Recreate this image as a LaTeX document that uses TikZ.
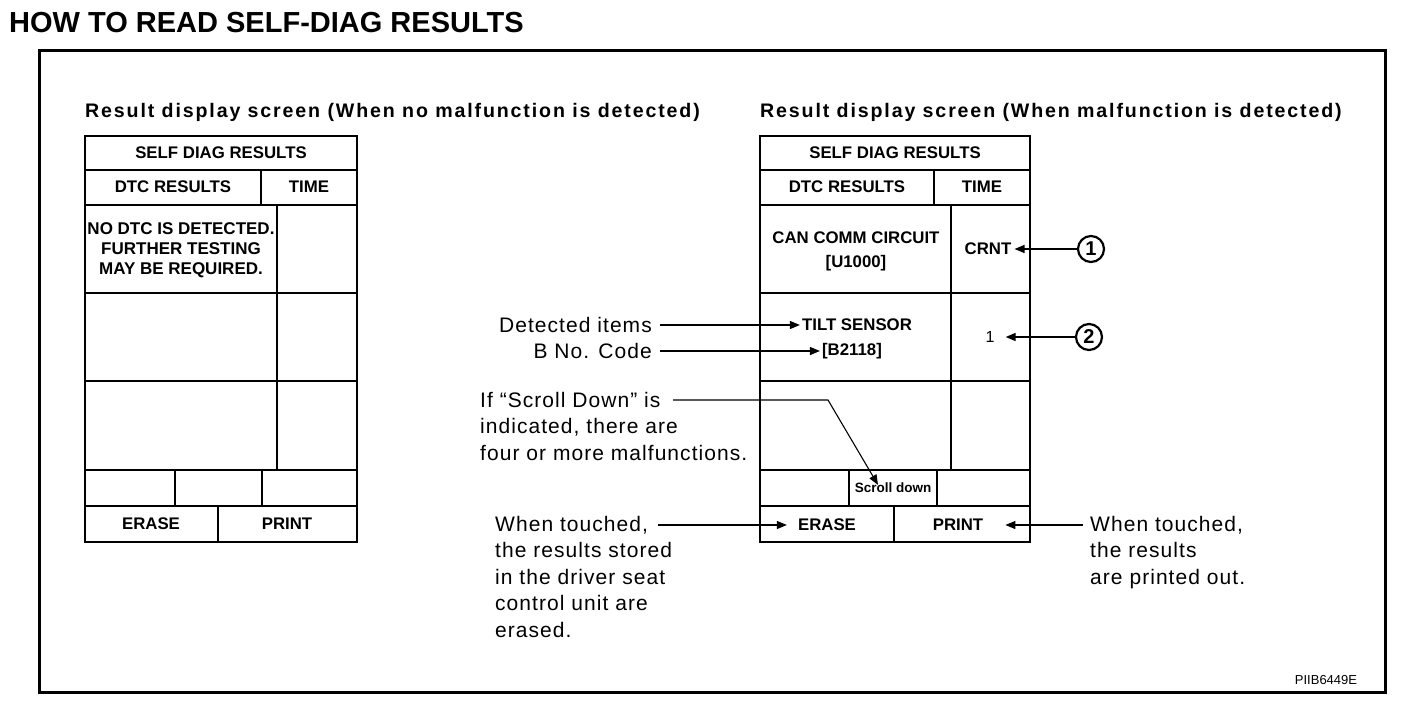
\documentclass[tikz,border=0pt]{standalone}
\usepackage{fontspec}
\setmainfont{Liberation Sans}
\newfontfamily\labfont[LetterSpace=5]{Liberation Sans}
\newfontfamily\headfont[LetterSpace=9.5]{Liberation Sans}
\usetikzlibrary{arrows.meta}
\begin{document}
\begin{tikzpicture}[x=1pt,y=-1pt,
  tabline/.style={line width=2pt},
  taboutline/.style={line width=2.6pt},
  cell/.style={font=\fontsize{16.8}{20}\selectfont\bfseries, inner sep=2pt},
  lab/.style={font=\labfont\fontsize{21}{26.5}\selectfont, inner sep=0pt, align=left},
  arr/.style={line width=1.4pt, -{Triangle[length=10pt,width=8pt]}},
  circ/.style={circle, draw, line width=2.2pt, minimum size=26pt, inner sep=0pt, font=\fontsize{20}{20}\selectfont\bfseries}]
\useasboundingbox (0,0) rectangle (1408,712);
% title
\node[anchor=base west, inner sep=0pt, font=\fontsize{29}{31}\selectfont\bfseries] (title) at (9,32) {HOW TO READ SELF-DIAG RESULTS};
% frame
\draw[line width=3pt] (39,50) rectangle (1385,692);
% headings
\node[anchor=base west, inner sep=0pt, font=\headfont\bfseries\fontsize{19.6}{22}\selectfont] (headL) at (85,117) {Result display screen (When no malfunction is detected)};
\node[anchor=base west, inner sep=0pt, font=\headfont\bfseries\fontsize{19.6}{22}\selectfont] (headR) at (760,117) {Result display screen (When malfunction is detected)};

% ---------- left table ----------
\draw[tabline] (85,170) -- (357,170);
\draw[tabline] (85,205) -- (357,205);
\draw[tabline] (85,293) -- (357,293);
\draw[tabline] (85,381) -- (357,381);
\draw[tabline] (85,470) -- (357,470);
\draw[tabline] (85,506) -- (357,506);
\draw[tabline] (261,170) -- (261,205);
\draw[tabline] (277,205) -- (277,470);
\draw[tabline] (175,470) -- (175,506);
\draw[tabline] (262,470) -- (262,506);
\draw[tabline] (218,506) -- (218,542);
\draw[taboutline] (85,136) rectangle (357,542);
\node[cell] (lself) at (221,153) {SELF DIAG RESULTS};
\node[cell] (ldtc) at (173,187) {DTC RESULTS};
\node[cell] (ltime) at (309,187) {TIME};
\node[cell, align=center, font=\fontsize{17}{20}\selectfont\bfseries] (lno) at (181,250) {NO DTC IS DETECTED.\\FURTHER TESTING\\MAY BE REQUIRED.};
\node[cell] (lerase) at (151,524) {ERASE};
\node[cell] (lprint) at (287,524) {PRINT};

% ---------- right table ----------
\draw[tabline] (760,170) -- (1030,170);
\draw[tabline] (760,205) -- (1030,205);
\draw[tabline] (760,293) -- (1030,293);
\draw[tabline] (760,381) -- (1030,381);
\draw[tabline] (760,470) -- (1030,470);
\draw[tabline] (760,506) -- (1030,506);
\draw[tabline] (934,170) -- (934,205);
\draw[tabline] (951,205) -- (951,470);
\draw[tabline] (849,470) -- (849,506);
\draw[tabline] (937,470) -- (937,506);
\draw[tabline] (894,506) -- (894,542);
\draw[taboutline] (760,136) rectangle (1030,542);
\node[cell] (rself) at (895,153) {SELF DIAG RESULTS};
\node[cell] (rdtc) at (847,187) {DTC RESULTS};
\node[cell] (rtime) at (982,187) {TIME};
\node[cell] (can) at (856,238) {CAN COMM CIRCUIT};
\node[cell] (u1000) at (856,263) {[U1000]};
\node[cell] (crnt) at (988,249) {CRNT};
\node[cell] (tilt) at (857,325) {TILT SENSOR};
\node[cell] (b2118) at (852,351) {[B2118]};
\node[cell, font=\fontsize{16}{20}\selectfont] (one) at (990,337) {1};
\node[cell, font=\fontsize{13.5}{16}\selectfont\bfseries] (scroll) at (893,488) {Scroll down};
\node[cell] (rerase) at (827,525) {ERASE};
\node[cell] (rprint) at (958,525) {PRINT};

% circled numbers
\node[circ] (c1) at (1091,249) {1};
\node[circ] (c2) at (1089,337) {2};

% labels (anchor = baseline of the last line)
\node[lab, anchor=east] (detlab) at (652,325) {Detected items};
\node[lab, anchor=east] (blab) at (652,351) {B No. Code};
\node[lab, anchor=base west] (sdlab) at (480,460) {If “Scroll Down” is\\indicated, there are\\four or more malfunctions.};
\node[lab, anchor=base west] (erlab) at (495,637) {When touched,\\the results stored\\in the driver seat\\control unit are\\erased.};
\node[lab, anchor=base west] (prlab) at (1090,584) {When touched,\\the results\\are printed out.};
\node[anchor=center, inner sep=0pt, font=\fontsize{13}{14}\selectfont] (code) at (1326,680) {PIIB6449E};

% connectors
\coordinate (sdstart) at (673,400);
\coordinate (sdknee) at (828,400);
\coordinate (erstart) at (658,525);
\coordinate (prstart) at (1083,525);
\draw[arr] (c1.west) -- ([xshift=1pt]crnt.east);
\draw[arr] (c2.west) -- ([xshift=9pt]one.east);
\draw[arr] ([xshift=8pt]detlab.east) -- (detlab.east -| tilt.west);
\draw[arr] ([xshift=8pt]blab.east) -- (blab.east -| b2118.west);
\draw[arr, line width=1.1pt] (sdstart) -- (sdknee) -- ([xshift=-15pt,yshift=-4pt]scroll.north);
\draw[arr, line width=1.1pt] (erstart) -- ([xshift=-9pt]rerase.west);
\draw[arr, line width=1.1pt] (prstart) -- ([xshift=20pt]rprint.east);
\end{tikzpicture}
\end{document}
